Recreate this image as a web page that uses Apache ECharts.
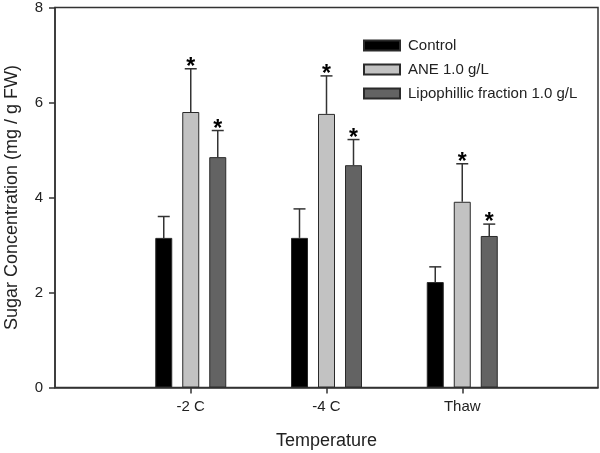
<!DOCTYPE html>
<html>
<head>
<meta charset="utf-8">
<script src="https://cdn.jsdelivr.net/npm/echarts@6/dist/echarts.min.js"></script>
<style>html,body{margin:0;padding:0;background:#fff}#c{width:600px;height:453px}</style>
</head>
<body>
<div id="c"></div>
<script>
var categories = ['-2 C', '-4 C', 'Thaw'];
var seriesNames = ['Control', 'ANE 1.0 g/L', 'Lipophillic fraction 1.0 g/L'];
var control = [3.15, 3.15, 2.22];
var controlErr = [0.45, 0.61, 0.32];
var ane = [5.80, 5.76, 3.91];
var aneErr = [0.91, 0.80, 0.80];
var lipo = [4.85, 4.68, 3.19];
var lipoErr = [0.56, 0.54, 0.25];
var controlSig = [0, 0, 0];
var aneSig = [1, 1, 1];
var lipoSig = [1, 1, 1];
var yTicks = [0, 2, 4, 6, 8];

var FONT = '"Liberation Sans", Arial, sans-serif';
var BAR_W = 17, BAR_GAP = 10;
var colors = ['#000000', '#c2c2c2', '#636363'];
var values = [control, ane, lipo];
var errs = [controlErr, aneErr, lipoErr];
var sigs = [controlSig, aneSig, lipoSig];

var axisCats = [''].concat(categories).concat(['']);
function pad(arr){ return [null].concat(arr).concat([null]); }

var errData = [];
for (var s = 0; s < 3; s++) {
  for (var i = 0; i < categories.length; i++) {
    errData.push([i + 1, s, values[s][i], errs[s][i], sigs[s][i]]);
  }
}

var series = [];
for (var s2 = 0; s2 < 3; s2++) {
  series.push({
    name: seriesNames[s2], type: 'bar', data: pad(values[s2]),
    barWidth: BAR_W, barGap: (BAR_GAP / BAR_W * 100) + '%',
    itemStyle: { color: colors[s2], borderColor: '#2a2a2a', borderWidth: 1 },
    silent: true
  });
}
series.push({
  type: 'custom', data: errData, z: 5, silent: true,
  encode: { x: 0, y: 2 },
  renderItem: function (params, api) {
    var ci = api.value(0), s = api.value(1), v = api.value(2), e = api.value(3), sig = api.value(4);
    var base = api.coord([ci, v]);
    var top = api.coord([ci, v + e]);
    var x = base[0] + (s - 1) * (BAR_W + BAR_GAP);
    var st = { stroke: '#333', lineWidth: 1.5 };
    var children = [
      { type: 'line', shape: { x1: x, y1: base[1], x2: x, y2: top[1] }, style: st },
      { type: 'line', shape: { x1: x - 6, y1: top[1], x2: x + 6, y2: top[1] }, style: st }
    ];
    if (sig) {
      children.push({ type: 'text', style: { text: '*', x: x, y: top[1] - 1, align: 'center', verticalAlign: 'middle', fontSize: 23, fontWeight: 'bold', fontFamily: FONT, fill: '#000' } });
    }
    return { type: 'group', children: children };
  }
});

var chart = echarts.init(document.getElementById('c'), null, { renderer: 'canvas' });
chart.setOption({
  animation: false,
  backgroundColor: '#fff',
  grid: { left: 55, right: 2, top: 7.5, bottom: 65.5, show: true, borderColor: '#333', borderWidth: 1.5, containLabel: false, outerBoundsMode: 'none' },
  legend: {
    data: seriesNames, orient: 'vertical', left: 363, top: 38, itemWidth: 36, itemHeight: 10, itemGap: 9,
    padding: 0, icon: 'rect', selectedMode: false,
    textStyle: { fontSize: 15, fontFamily: FONT, color: '#222', padding: [0, 0, 0, 3] }
  },
  xAxis: {
    type: 'category', data: axisCats, boundaryGap: false,
    name: 'Temperature', nameLocation: 'middle', nameGap: 45,
    nameTextStyle: { fontSize: 18, fontFamily: FONT, color: '#222' },
    axisLine: { lineStyle: { color: '#333', width: 1.5 } },
    axisTick: { length: 6, inside: false, lineStyle: { color: '#333', width: 1.5 }, interval: function (idx) { return idx >= 1 && idx <= categories.length; } },
    axisLabel: { interval: 0, margin: 12, fontSize: 15, fontFamily: FONT, color: '#222' },
    splitLine: { show: false }
  },
  yAxis: {
    type: 'value', min: yTicks[0], max: yTicks[yTicks.length - 1], interval: yTicks[1] - yTicks[0],
    name: 'Sugar Concentration (mg / g FW)', nameLocation: 'middle', nameGap: 34,
    nameTextStyle: { fontSize: 18, fontFamily: FONT, color: '#222' },
    axisLine: { show: true, lineStyle: { color: '#333', width: 1.5 } },
    axisTick: { show: true, length: 6, lineStyle: { color: '#333', width: 1.5 } },
    axisLabel: { margin: 12, fontSize: 15, fontFamily: FONT, color: '#222' },
    splitLine: { show: false }
  },
  series: series
});
</script>
</body>
</html>
